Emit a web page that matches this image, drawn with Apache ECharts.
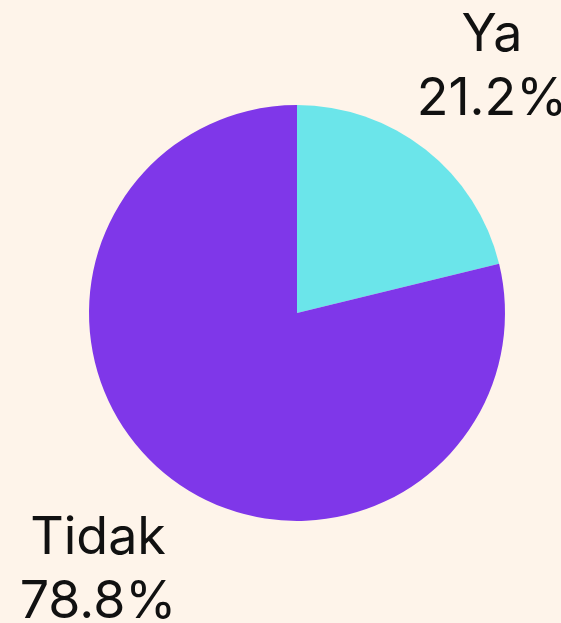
<!DOCTYPE html>
<html>
<head>
<meta charset="utf-8">
<script src="https://cdn.jsdelivr.net/npm/echarts@6/dist/echarts.min.js"></script>
<style>
  html, body { margin: 0; padding: 0; background: #fef4ea; }
  #chart { width: 561px; height: 623px; }
</style>
</head>
<body>
<div id="chart"></div>
<script>
var categories = ['Ya', 'Tidak'];
var values = [21.2, 78.8];
var colors = ['#6be5ea', '#7f37e9'];
// label anchor points (centre of text block)
var labelPos = [[492, 67], [98, 570]];

var chart = echarts.init(document.getElementById('chart'));
var option = {
    backgroundColor: '#fef4ea',
    animation: false,
    series: [
        {
            type: 'pie',
            center: [297, 313],
            radius: 208,
            startAngle: 90,
            clockwise: true,
            label: {
                show: true,
                position: 'outside',
                formatter: function (p) { return p.name + '\n' + p.value.toFixed(1) + '%'; },
                fontFamily: 'Inter',
                fontSize: 52,
                lineHeight: 64,
                color: '#111',
                align: 'center',
                overflow: 'none',
                width: 300
            },
            labelLine: { show: false },
            labelLayout: function (params) {
                var pt = labelPos[params.dataIndex];
                return { x: pt[0], y: pt[1], align: 'center', verticalAlign: 'middle' };
            },
            itemStyle: { borderWidth: 0 },
            emphasis: { disabled: true },
            data: categories.map(function (c, i) {
                return { name: c, value: values[i], itemStyle: { color: colors[i] } };
            })
        }
    ]
};
chart.setOption(option);
</script>
</body>
</html>
